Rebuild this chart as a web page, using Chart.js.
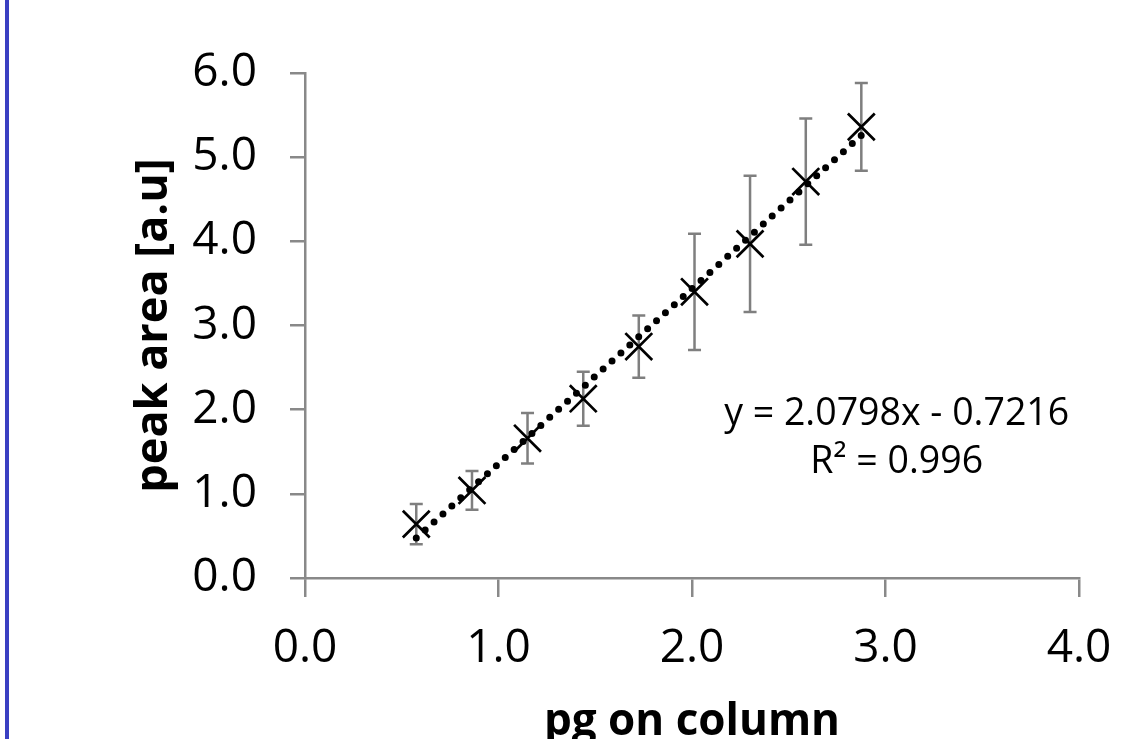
<!DOCTYPE html>
<html>
<head>
<meta charset="utf-8">
<script src="https://cdn.jsdelivr.net/npm/chart.js@4"></script>
<style>
  html, body { margin: 0; padding: 0; background: #fff; overflow: hidden; }
  #wrap { position: relative; width: 1131px; height: 739px; }
  #edge { position: absolute; left: 5px; top: 0; width: 4px; height: 739px; background: #3a3fc2; }
</style>
</head>
<body>
<div id="wrap">
  <canvas id="calib" width="1131" height="739"></canvas>
  <div id="edge"></div>
</div>
<script>
// pg on column vs peak area
const pgOnColumn = [0.575, 0.863, 1.150, 1.438, 1.725, 2.013, 2.300, 2.588, 2.875];
const peakArea   = [0.64, 1.04, 1.66, 2.13, 2.75, 3.40, 3.97, 4.71, 5.36];
const peakErr    = [0.24, 0.23, 0.30, 0.32, 0.37, 0.69, 0.81, 0.75, 0.52];

// dotted linear trendline ends
const trendX = [0.575, 2.875];
const trendY = [0.474, 5.258];

const eqLines = ['y = 2.0798x - 0.7216', 'R\u00b2 = 0.996'];

const axisGrey = '#898989';

const errorBars = {
  id: 'errorBars',
  beforeDatasetsDraw(chart) {
    const { ctx, scales: { x, y } } = chart;
    ctx.save();
    ctx.strokeStyle = '#7f7f7f';
    ctx.lineWidth = 2.5;
    pgOnColumn.forEach((v, i) => {
      const px = x.getPixelForValue(v);
      const top = y.getPixelForValue(peakArea[i] + peakErr[i]);
      const bot = y.getPixelForValue(peakArea[i] - peakErr[i]);
      ctx.beginPath();
      ctx.moveTo(px, top); ctx.lineTo(px, bot);
      ctx.moveTo(px - 6.5, top); ctx.lineTo(px + 6.5, top);
      ctx.moveTo(px - 6.5, bot); ctx.lineTo(px + 6.5, bot);
      ctx.stroke();
    });
    ctx.restore();
  }
};

const equation = {
  id: 'equation',
  afterDatasetsDraw(chart) {
    const { ctx, scales: { x, y } } = chart;
    ctx.save();
    ctx.fillStyle = '#000';
    ctx.font = '37.5px "Open Sans"';
    ctx.textAlign = 'center';
    ctx.textBaseline = 'middle';
    ctx.fillText(eqLines[0], x.getPixelForValue(3.058), y.getPixelForValue(1.95));
    ctx.fillText(eqLines[1], x.getPixelForValue(3.058), y.getPixelForValue(1.37));
    ctx.restore();
  }
};

new Chart(document.getElementById('calib'), {
  type: 'scatter',
  data: {
    datasets: [
      {
        label: 'trend',
        type: 'line',
        data: trendX.map((v, i) => ({ x: v, y: trendY[i] })),
        borderColor: '#000',
        borderWidth: 7,
        borderDash: [0, 12],
        borderCapStyle: 'round',
        pointRadius: 0,
        fill: false,
        order: 0
      },
      {
        label: 'peak area',
        data: pgOnColumn.map((v, i) => ({ x: v, y: peakArea[i] })),
        pointStyle: 'crossRot',
        pointRadius: 19,
        pointBorderWidth: 2.7,
        borderColor: '#000',
        backgroundColor: '#000',
        order: 1
      }
    ]
  },
  options: {
    responsive: false,
    animation: false,
    layout: { padding: { top: 73, right: 52, left: 0, bottom: 0 } },
    plugins: { legend: { display: false }, tooltip: { enabled: false } },
    scales: {
      x: {
        type: 'linear',
        min: 0, max: 4,
        afterFit(s) { s.height = 161; s.paddingLeft = 0; s.paddingRight = 0; },
        border: { color: axisGrey, width: 2.5 },
        grid: { drawOnChartArea: false, drawTicks: true, tickLength: 19, color: axisGrey, lineWidth: 2.5 },
        ticks: {
          stepSize: 1,
          padding: 24,
          color: '#000',
          font: { family: 'Open Sans', size: 46 },
          callback: v => v.toFixed(1)
        },
        title: {
          display: true,
          text: 'pg on column',
          color: '#000',
          font: { family: 'Open Sans', size: 44, weight: 'bold' },
          padding: { top: 0, bottom: -10 }
        }
      },
      y: {
        min: 0, max: 6,
        afterFit(s) { s.width = 305; s.paddingTop = 0; s.paddingBottom = 0; },
        border: { color: axisGrey, width: 2.5 },
        grid: { drawOnChartArea: false, drawTicks: true, tickLength: 15, color: axisGrey, lineWidth: 2.5 },
        ticks: {
          stepSize: 1,
          padding: 33,
          color: '#000',
          font: { family: 'Open Sans', size: 46 },
          callback: v => v.toFixed(1)
        },
        title: {
          display: true,
          text: 'peak area [a.u]',
          color: '#000',
          font: { family: 'Open Sans', size: 45, weight: 'bold' },
          padding: { top: 127, bottom: 0 }
        }
      }
    }
  },
  plugins: [errorBars, equation]
});
</script>
</body>
</html>
